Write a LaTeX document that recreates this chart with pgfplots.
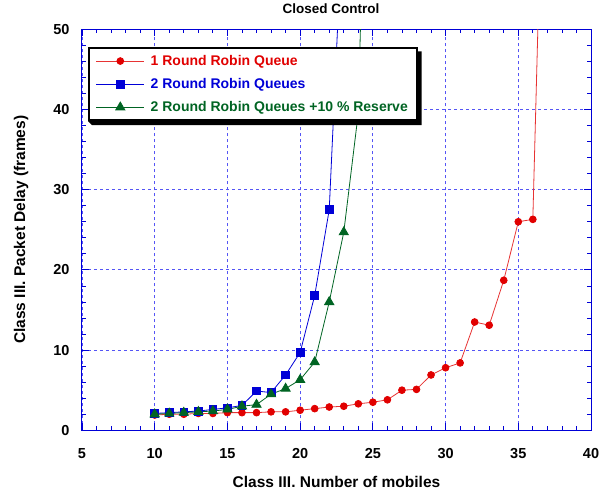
\documentclass[border=0pt]{standalone}
\usepackage{pgfplots}
\pgfplotsset{compat=1.18}
\usepackage{fontspec}
\setmainfont{Liberation Sans}

\definecolor{rrred}{RGB}{225,0,0}
\definecolor{rrblue}{RGB}{0,0,215}
\definecolor{rrgreen}{RGB}{0,100,35}
\definecolor{gridblue}{RGB}{85,85,245}

\begin{document}
\begin{tikzpicture}
\begin{axis}[
  scale only axis,
  width=509pt, height=401pt,
  xmin=5, xmax=40, ymin=0, ymax=50,
  xtick={5,10,...,40}, ytick={0,10,...,50},
  minor x tick num=4, minor y tick num=4,
  tick align=inside,
  major tick length=7pt, minor tick length=4pt,
  axis line style={rrblue, line width=1pt},
  every tick/.style={rrblue, line width=0.8pt},
  grid=major,
  major grid style={gridblue, dash pattern=on 3pt off 3pt, line width=0.8pt},
  tick label style={font=\bfseries\fontsize{14.5}{16}\selectfont},
  /pgf/number format/assume math mode=true,
  xticklabel style={yshift=-15pt},
  yticklabel style={xshift=-9pt},
  title={\bfseries\fontsize{13.5}{15}\selectfont Closed Control},
  title style={at={(axis description cs:0.489,1.0374)}, anchor=center},
  xlabel={\bfseries\fontsize{15.5}{17}\selectfont Class III. Number of mobiles},
  ylabel={\bfseries\fontsize{15.5}{17}\selectfont Class III. Packet Delay (frames)},
  xlabel style={at={(axis description cs:0.5,-0.1297)}, anchor=center},
  ylabel style={at={(axis description cs:-0.1198,0.5)}, anchor=center},
  clip=true,
  legend cell align=left,
  legend style={
    name=leg,
    at={(0.0118,0.955)}, anchor=north west,
    draw=black, line width=1.8pt, fill=white,
    font=\bfseries\fontsize{14}{16}\selectfont,
    row sep=7.5pt, inner xsep=7pt, inner ysep=5pt,
  },
  legend image code/.code={
    \draw[mark repeat=2, mark phase=2, #1] plot coordinates {(0pt,0pt) (24pt,0pt) (48pt,0pt)};
    \path (52pt,0pt);
  },
]
\addplot[rrred!80, line width=0.8pt, mark=*, mark size=3.4pt,
  mark options={fill=rrred, draw=rrred, solid}] coordinates {
  (10,1.9) (11,2.0) (12,2.0) (13,2.1) (14,2.1) (15,2.2) (16,2.2) (17,2.2)
  (18,2.3) (19,2.3) (20,2.5) (21,2.7) (22,2.9) (23,3.0) (24,3.3) (25,3.5)
  (26,3.8) (27,5.0) (28,5.1) (29,6.9) (30,7.8) (31,8.4) (32,13.5) (33,13.1)
  (34,18.7) (35,26.0) (36,26.3) (37,95)
};
\addlegendentry{\textcolor{rrred}{1 Round Robin Queue}}

\addplot[rrblue, line width=0.8pt, mark=square*, mark size=3.9pt,
  mark options={fill=rrblue, draw=rrblue, solid}] coordinates {
  (10,2.1) (11,2.2) (12,2.3) (13,2.4) (14,2.6) (15,2.8) (16,3.1) (17,4.9)
  (18,4.7) (19,6.9) (20,9.7) (21,16.8) (22,27.5) (23,67)
};
\addlegendentry{\textcolor{rrblue}{2 Round Robin Queues}}

\addplot[rrgreen, line width=0.8pt, mark=triangle*, mark size=5.3pt,
  mark options={fill=rrgreen, draw=rrgreen, solid}] coordinates {
  (10,2.0) (11,2.1) (12,2.2) (13,2.3) (14,2.4) (15,2.6) (16,3.0) (17,3.2)
  (18,4.5) (19,5.2) (20,6.3) (21,8.5) (22,16.0) (23,24.7) (24,39.6) (25,112)
};
\addlegendentry{\textcolor{rrgreen}{2 Round Robin Queues +10 \% Reserve}}
\end{axis}
% shadow along the right and bottom edges of the legend box
\fill[black] ([yshift=-4pt]leg.north east) -- ++(4pt,0pt)
  -- ([xshift=4pt,yshift=-4pt]leg.south east)
  -- ([xshift=4pt,yshift=-4pt]leg.south west)
  -- (leg.south west) -- (leg.south east) -- cycle;
% page frame around the axis box and its labels
\path (-82pt,-63pt) rectangle (523pt,430pt);
\end{tikzpicture}
\end{document}
